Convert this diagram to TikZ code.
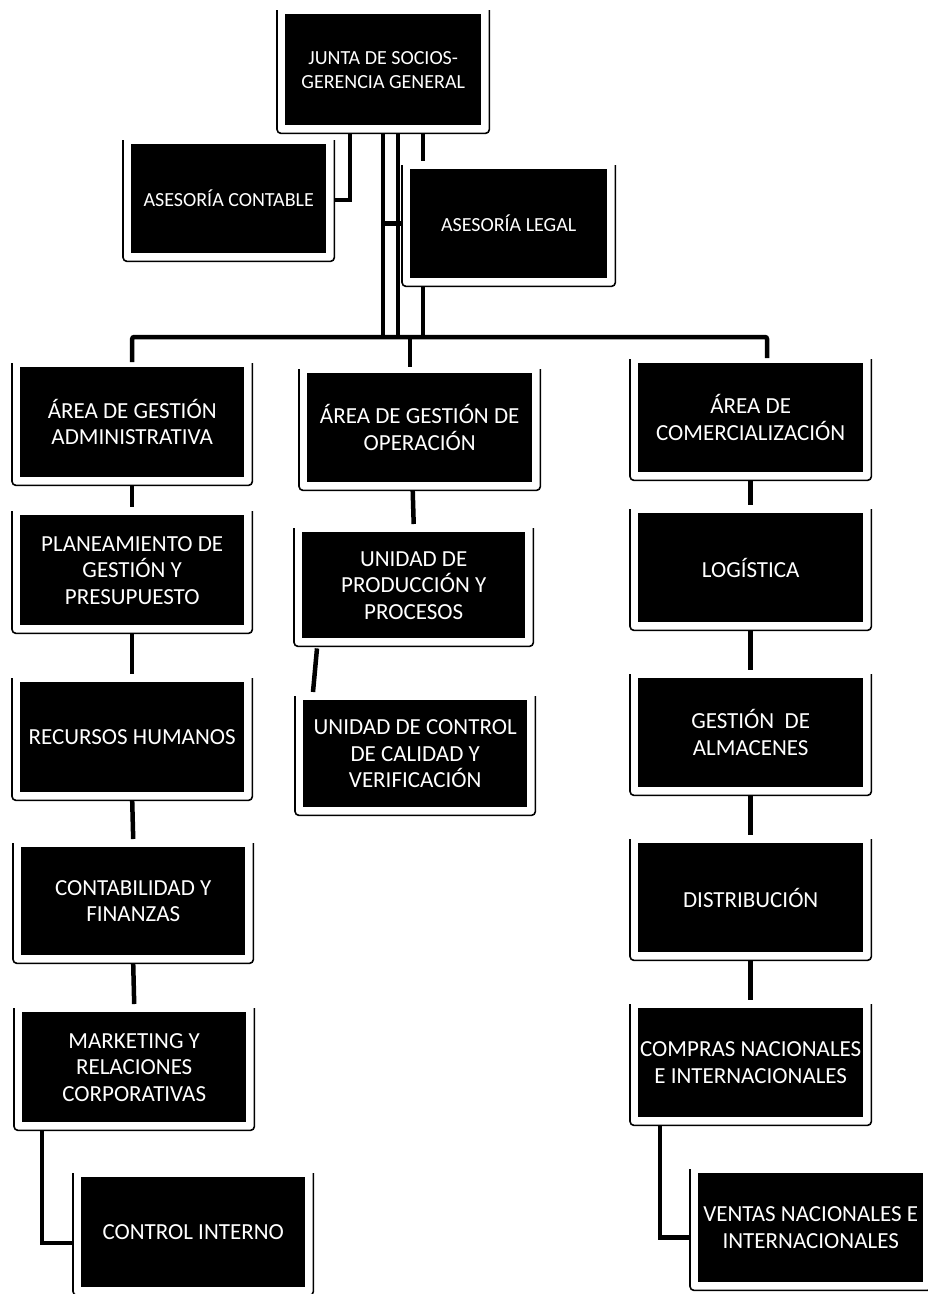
\documentclass[tikz,border=0pt]{standalone}
\usepackage{fontspec}
\setmainfont{Carlito}
\tikzset{
  box/.style={fill=black, text=white, align=center, inner sep=0pt, anchor=north west,
    font=\fontsize{23}{26.5}\selectfont},
  topbox/.style={box, font=\fontsize{20}{24}\selectfont},
  frm/.style={draw=black, line width=1.6pt, rounded corners=4pt},
  conn/.style={draw=black, line width=4.5pt}
}
\newcommand{\ubframe}[1]{%
  \draw[frm] ([shift={(-8pt,4pt)}]#1.north west) -- ([shift={(-8pt,-8pt)}]#1.south west)
    -- ([shift={(8pt,-8pt)}]#1.south east) -- ([shift={(8pt,4pt)}]#1.north east);}
\begin{document}
\begin{tikzpicture}[x=1pt,y=-1pt]
\fill[white] (0,0) rectangle (927,1294);
\useasboundingbox (0,0) rectangle (927,1294);

% top
\node[topbox, minimum width=196pt, minimum height=111pt] (junta) at (285,14)
  {\fontsize{20}{35}\selectfont JUNTA DE SOCIOS-\\GERENCIA GENERAL};
\node[topbox, minimum width=195pt, minimum height=109pt] (contable) at (131,144) {ASESORÍA CONTABLE};
\node[topbox, minimum width=197pt, minimum height=109pt] (legal) at (410,169) {ASESORÍA LEGAL};

% left column
\node[box, minimum width=224pt, minimum height=110pt] (admin) at (20,367) {ÁREA DE GESTIÓN\\ADMINISTRATIVA};
\node[box, minimum width=224pt, minimum height=110pt] (plan) at (20,515) {PLANEAMIENTO DE\\GESTIÓN Y\\PRESUPUESTO};
\node[box, minimum width=224pt, minimum height=110pt] (rrhh) at (20,682) {RECURSOS HUMANOS};
\node[box, minimum width=224pt, minimum height=108pt] (conta) at (21,847) {CONTABILIDAD Y\\FINANZAS};
\node[box, minimum width=224pt, minimum height=110pt] (mkt) at (22,1012) {MARKETING Y\\RELACIONES\\CORPORATIVAS};
\node[box, minimum width=224pt, minimum height=110pt] (control) at (81,1177) {CONTROL INTERNO};

% middle column
\node[box, minimum width=225pt, minimum height=109pt] (oper) at (307,373) {ÁREA DE GESTIÓN DE\\OPERACIÓN};
\node[box, minimum width=223pt, minimum height=106pt] (prod) at (302,532) {UNIDAD DE\\PRODUCCIÓN Y\\PROCESOS};
\node[box, minimum width=224pt, minimum height=107pt] (calidad) at (303,700) {UNIDAD DE CONTROL\\DE CALIDAD Y\\VERIFICACIÓN};

% right column
\node[box, minimum width=225pt, minimum height=109pt] (comer) at (638,363) {ÁREA DE\\COMERCIALIZACIÓN};
\node[box, minimum width=225pt, minimum height=109pt] (logis) at (638,513) {LOGÍSTICA};
\node[box, minimum width=225pt, minimum height=109pt] (almac) at (638,678) {GESTIÓN\ \ DE\\ALMACENES};
\node[box, minimum width=225pt, minimum height=109pt] (distr) at (638,843) {DISTRIBUCIÓN};
\node[box, minimum width=225pt, minimum height=109pt] (compras) at (638,1008) {COMPRAS NACIONALES\\E INTERNACIONALES};
\node[box, minimum width=225pt, minimum height=109pt] (ventas) at (698,1173) {VENTAS NACIONALES E\\INTERNACIONALES};

% frames
\foreach \n in {junta,contable,legal,admin,plan,rrhh,conta,mkt,control,oper,prod,calidad,comer,logis,almac,distr,compras,ventas}{\ubframe{\n}}

% connectors at the top
\coordinate (busY) at (0,337);
\coordinate (jA) at ([shift={(98pt,-8pt)}]junta.south west);
\coordinate (jB) at ([shift={(113pt,-8pt)}]junta.south west);
\coordinate (jC) at ([shift={(138pt,-8pt)}]junta.south west);
\coordinate (lB) at ([shift={(13pt,-8pt)}]legal.south west);
\coordinate (cD) at ([shift={(129pt,5pt)}]comer.north west);
\coordinate (oD) at ([shift={(103pt,6pt)}]oper.north west);
\draw[conn] ([shift={(65pt,-8pt)}]junta.south west) |- ([shift={(8pt,-1.5pt)}]contable.east);
\draw[conn] (jA) -- (jA |- busY);
\draw[conn] (jB) -- (jB |- busY);
\draw[conn] (jC) -- ++(0,28);
\draw[conn] (jA |- legal.west) -- ([xshift=-8pt]legal.west);
\draw[conn] (lB) -- (lB |- busY);
\draw[conn, rounded corners=2pt] ([yshift=5pt]admin.north) |- (cD |- busY) -- (cD);
\draw[conn] (oD |- busY) -- (oD);

% left chain
\draw[conn] ([yshift=-8pt]admin.south) -- ([yshift=8pt]plan.north);
\draw[conn] ([yshift=-8pt]plan.south) -- ([yshift=8pt]rrhh.north);
\draw[conn] ([yshift=-8pt]rrhh.south) -- ([yshift=8pt]conta.north);
\draw[conn] ([yshift=-8pt]conta.south) -- ([yshift=8pt]mkt.north);
\coordinate (mD) at ([shift={(20pt,-8pt)}]mkt.south west);
\draw[conn] (mD) |- ([shift={(-8pt,-11pt)}]control.west);

% middle chain
\draw[conn] ([shift={(-7pt,-8pt)}]oper.south) -- ([yshift=8pt]prod.north);
\draw[conn] ([shift={(15pt,-10pt)}]prod.south west) -- ([shift={(10pt,8pt)}]calidad.north west);

% right chain
\draw[conn] ([yshift=-8pt]comer.south) -- ([yshift=8pt]logis.north);
\draw[conn] ([yshift=-8pt]logis.south) -- ([yshift=8pt]almac.north);
\draw[conn] ([yshift=-8pt]almac.south) -- ([yshift=8pt]distr.north);
\draw[conn] ([yshift=-8pt]distr.south) -- ([yshift=8pt]compras.north);
\coordinate (cV) at ([shift={(22pt,-8pt)}]compras.south west);
\draw[conn] (cV) |- ([shift={(-8pt,-10pt)}]ventas.west);
\end{tikzpicture}
\end{document}
